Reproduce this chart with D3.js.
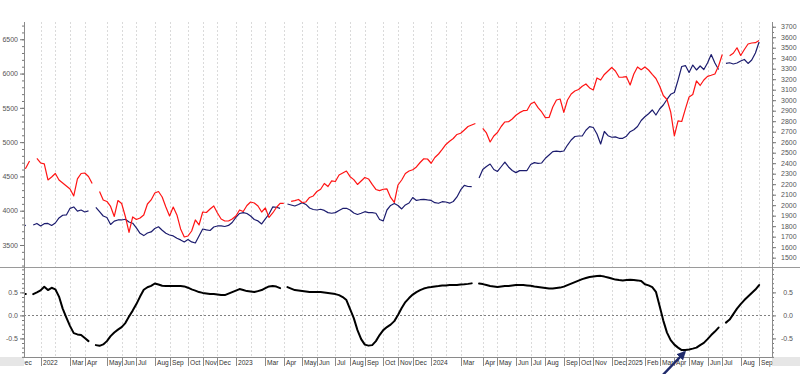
<!DOCTYPE html>
<html>
<head>
<meta charset="utf-8">
<script src="https://cdn.jsdelivr.net/npm/d3@7"></script>
<style>
  body { margin: 0; background: #fff; }
  svg { display: block; }
</style>
</head>
<body>
<div id="chart"></div>
<script>
// weekly bar slots; the first value of every series sits at slot -1 (just off the left edge)
const firstSlot = -1;

// S&P 500 (left axis)
const spx = [4590,
  4623, 4725, null, 4762, 4696, 4682, 4448, 4492, 4543, 4448,
  4404, 4361, 4317, 4215, 4463, 4543, 4550, 4499, 4397, null,
  4280, 4157, 4135, 4062, 3916, 4149, 4105, 3916, 3683, 3909,
  3872, 3894, 3938, 4098, 4157, 4259, 4280, 4200, 4054, 3923,
  4054, 3938, 3734, 3617, 3631, 3704, 3865, 3792, 3981, 3974,
  4025, 4069, 3967, 3879, 3850, 3850, 3879, 3923, 4011, 3989,
  4076, 4127, 4113, 4069, 3981, 4040, 3901, 3967, 4047, 4108,
  4108, null, 4135, 4146, 4164, 4120, 4127, 4193, 4215, 4280,
  4313, 4397, 4353, 4434, 4426, 4521, 4550, 4579, 4496, 4453,
  4383, 4434, 4485, 4463, 4383, 4310, 4292, 4313, 4317, 4193,
  4120, 4375, 4448, 4543, 4579, 4598, 4638, 4703, 4757, 4754,
  4692, 4776, 4827, 4893, 4966, 5013, 5053, 5112, 5129, 5177,
  5228, 5250, 5272, null, 5199, 5134, 5002, 5090, 5141, 5228,
  5294, 5298, 5338, 5392, 5430, 5459, 5462, 5556, 5586, 5503,
  5440, 5357, 5360, 5513, 5615, 5629, 5433, 5615, 5702, 5746,
  5768, 5815, 5848, 5790, 5761, 5936, 5906, 5987, 6038, 6089,
  6038, 5946, 5947, 5955, 5834, 5994, 6096, 6057, 6096, 6052,
  5987, 5928, 5819, 5680, 5622, 5440, 5090, 5309, 5301, 5484,
  5659, 5695, 5892, 5826, 5906, 5960, 5975, 5994, 6111, 6278,
  null, 6259, 6296, 6376, 6264, 6351, 6431, 6446, 6450, 6482];

// gold (right axis)
const gold = [1802,
  1807, null, 1811, 1826, 1802, 1824, 1826, 1807, 1830, 1878,
  1904, 1907, 1970, 1983, 1943, 1954, 1935, 1945, null, 1980,
  1938, 1897, 1883, 1816, 1848, 1859, 1859, 1866, 1840, 1828,
  1783, 1732, 1710, 1735, 1745, 1778, 1794, 1761, 1732, 1716,
  1707, 1685, 1669, 1650, 1673, 1650, 1640, 1707, 1773, 1764,
  1759, 1792, 1802, 1802, 1797, 1807, 1835, 1883, 1921, 1929,
  1921, 1897, 1864, 1850, 1821, 1869, 1916, 1983, 1980, 1970,
  null, 2011, 2002, 1992, 2007, 2024, 2007, 1973, 1959, 1954,
  1961, 1950, 1929, 1923, 1929, 1950, 1969, 1970, 1954, 1926,
  1911, 1923, 1938, 1929, 1929, 1923, 1864, 1850, 1954, 1997,
  2016, 1997, 1964, 2002, 2021, 2073, 2045, 2052, 2056, 2050,
  2045, 2024, 2018, 2033, 2030, 2019, 2035, 2078, 2145, 2188,
  2178, 2176, null, 2259, 2340, 2369, 2392, 2340, 2321, 2366,
  2411, 2364, 2330, 2310, 2329, 2329, 2330, 2388, 2405, 2399,
  2402, 2447, 2478, 2510, 2514, 2511, 2516, 2573, 2621, 2654,
  2659, 2659, 2714, 2748, 2740, 2678, 2583, 2702, 2662, 2647,
  2651, 2637, 2637, 2657, 2700, 2719, 2750, 2807, 2842, 2871,
  2907, 2859, 2916, 2954, 3007, 3056, 3073, 3192, 3321, 3330,
  3264, 3335, 3288, 3326, 3292, 3354, 3435, 3354, 3292, null,
  3351, 3357, 3345, 3354, 3373, 3388, 3350, 3383, 3450, 3554];

// rolling correlation (lower panel)
const corr = [0.463,
  0.463, null, 0.463, 0.500, 0.543, 0.622, 0.550, 0.600, 0.567, 0.409,
  0.148, -0.048, -0.233, -0.385, -0.413, -0.428, -0.493, -0.559, null, -0.646,
  -0.661, -0.630, -0.559, -0.450, -0.370, -0.309, -0.254, -0.167, -0.026, 0.104,
  0.246, 0.409, 0.557, 0.611, 0.641, 0.693, 0.670, 0.643, 0.637, 0.637,
  0.637, 0.637, 0.637, 0.630, 0.602, 0.565, 0.539, 0.507, 0.489, 0.478,
  0.467, 0.463, 0.452, 0.441, 0.441, 0.474, 0.507, 0.539, 0.572, 0.550,
  0.528, 0.517, 0.507, 0.528, 0.550, 0.593, 0.630, 0.637, 0.626, 0.593,
  null, 0.615, 0.583, 0.550, 0.539, 0.528, 0.517, 0.507, 0.507, 0.507,
  0.507, 0.496, 0.485, 0.474, 0.463, 0.441, 0.398, 0.333, 0.137, -0.059,
  -0.320, -0.515, -0.635, -0.657, -0.646, -0.559, -0.428, -0.320, -0.254, -0.200,
  -0.124, 0.007, 0.159, 0.289, 0.376, 0.452, 0.507, 0.550, 0.583, 0.604,
  0.615, 0.630, 0.637, 0.648, 0.652, 0.659, 0.659, 0.663, 0.670, 0.676,
  0.685, 0.696, null, 0.691, 0.680, 0.659, 0.637, 0.626, 0.615, 0.626,
  0.637, 0.637, 0.648, 0.659, 0.659, 0.659, 0.652, 0.643, 0.626, 0.615,
  0.604, 0.593, 0.583, 0.583, 0.593, 0.604, 0.626, 0.659, 0.691, 0.724,
  0.757, 0.789, 0.811, 0.833, 0.843, 0.854, 0.859, 0.843, 0.822, 0.800,
  0.778, 0.767, 0.761, 0.767, 0.774, 0.767, 0.761, 0.746, 0.676, 0.652,
  0.615, 0.513, 0.202, -0.113, -0.374, -0.537, -0.635, -0.700, -0.754, -0.750,
  -0.739, -0.722, -0.700, -0.646, -0.598, -0.515, -0.428, -0.352, -0.265, null,
  -0.157, -0.091, 0.028, 0.148, 0.246, 0.333, 0.409, 0.485, 0.561, 0.659];

// first bar of each month ("" = gridline only)
const monthSlots = [-2, 4, 8, 12, 16, 22, 26, 30, 35, 39, 44, 48, 52,
  57, 61, 65, 70, 75, 79, 84, 88, 92, 97, 101, 105,
  110, 114, 118, 124, 128, 133, 137, 141, 146, 150, 154, 159,
  163, 168, 172, 176, 180, 185, 189, 194, 199];
const monthLabels = ["Dec", "2022", "", "Mar", "Apr", "May", "Jun", "Jul", "Aug", "Sep", "Oct", "Nov", "Dec",
  "2023", "", "Mar", "Apr", "May", "Jun", "Jul", "Aug", "Sep", "Oct", "Nov", "Dec",
  "2024", "", "Mar", "Apr", "May", "Jun", "Jul", "Aug", "Sep", "Oct", "Nov", "Dec",
  "2025", "Feb", "Mar", "Apr", "May", "Jun", "Jul", "Aug", "Sep"];

const leftTicks = [3500, 4000, 4500, 5000, 5500, 6000, 6500];
const rightTicks = [1500, 1600, 1700, 1800, 1900, 2000, 2100, 2200, 2300, 2400, 2500, 2600,
  2700, 2800, 2900, 3000, 3100, 3200, 3300, 3400, 3500, 3600, 3700];
const corrTicks = [-0.5, 0.0, 0.5];

const W = 800, H = 374;
const L = 24, R = 772, T = 22, split = 267, bot = 357;

const svg = d3.select("#chart").append("svg")
  .attr("width", W).attr("height", H)
  .style("font-family", "'Liberation Sans', Arial, sans-serif");

const x = d3.scaleLinear().domain([-0.5, 202.5]).range([L, R]);
const yL = d3.scaleLinear().domain([3179, 6752]).range([split, T]);
const yR = d3.scaleLinear().domain([1411, 3745]).range([split, T]);
const yC = d3.scaleLinear().domain([-0.904, 1.03]).range([bot, split + 1]);

const defs = svg.append("defs");
defs.append("clipPath").attr("id", "clipTop")
  .append("rect").attr("x", L).attr("y", T).attr("width", R - L).attr("height", split - T);
defs.append("clipPath").attr("id", "clipBot")
  .append("rect").attr("x", L).attr("y", split + 1).attr("width", R - L).attr("height", bot - split - 1);
defs.append("clipPath").attr("id", "clipAxis")
  .append("rect").attr("x", L + 0.5).attr("y", bot).attr("width", R - L).attr("height", H - bot);

// grey strips beside the date row
svg.append("rect").attr("x", 0).attr("y", bot).attr("width", L).attr("height", 9).attr("fill", "#e6e6e6");
svg.append("rect").attr("x", R).attr("y", bot).attr("width", W - R).attr("height", 9).attr("fill", "#e6e6e6");

// month gridlines, both panels
svg.append("g").selectAll("line")
  .data(monthSlots.filter(s => x(s) > L + 1))
  .join("line")
    .attr("x1", d => Math.round(x(d)) + 0.5).attr("x2", d => Math.round(x(d)) + 0.5)
    .attr("y1", T).attr("y2", bot)
    .attr("stroke", "#dadada")
    .attr("stroke-dasharray", "2,2");

// zero line in the lower panel
svg.append("line")
  .attr("x1", L).attr("x2", R)
  .attr("y1", Math.round(yC(0)) + 0.5).attr("y2", Math.round(yC(0)) + 0.5)
  .attr("stroke", "#808080").attr("stroke-dasharray", "2,2");

// panel separator
svg.append("line").attr("x1", 0).attr("x2", W)
  .attr("y1", split + 0.5).attr("y2", split + 0.5).attr("stroke", "#9a9a9a");

// series
const slotOf = i => i + firstSlot;
const lineOf = yScale => d3.line()
  .defined(d => d != null)
  .x((d, i) => x(slotOf(i)))
  .y(d => yScale(d));

const gTop = svg.append("g").attr("clip-path", "url(#clipTop)");
gTop.append("path").datum(gold)
  .attr("d", lineOf(yR))
  .attr("fill", "none").attr("stroke", "#1c1c6e").attr("stroke-width", 1.2)
  .attr("stroke-linejoin", "round");
gTop.append("path").datum(spx)
  .attr("d", lineOf(yL))
  .attr("fill", "none").attr("stroke", "#ff1414").attr("stroke-width", 1.2)
  .attr("stroke-linejoin", "round");

svg.append("g").attr("clip-path", "url(#clipBot)")
  .append("path").datum(corr)
  .attr("d", lineOf(yC))
  .attr("fill", "none").attr("stroke", "#000").attr("stroke-width", 2)
  .attr("stroke-linejoin", "round").attr("stroke-linecap", "round");

// value axes
function styleAxis(g) {
  g.select(".domain").remove();
  g.attr("font-size", 7).attr("font-family", null).attr("color", "#555");
  g.selectAll(".tick line").attr("stroke", "#777");
}
const fmt1 = d => d.toFixed(1);

svg.append("g").attr("transform", `translate(${L},0)`)
  .call(d3.axisLeft(yL).tickValues(d3.range(3200, 6701, 100)).tickSize(2).tickFormat(""))
  .call(styleAxis);
svg.append("g").attr("transform", `translate(${L},0)`)
  .call(d3.axisLeft(yL).tickValues(leftTicks).tickSize(4).tickPadding(2).tickFormat(d3.format("d")))
  .call(styleAxis);

svg.append("g").attr("transform", `translate(${R},0)`)
  .call(d3.axisRight(yR).tickValues(d3.range(1450, 3701, 50)).tickSize(2).tickFormat(""))
  .call(styleAxis);
svg.append("g").attr("transform", `translate(${R},0)`)
  .call(d3.axisRight(yR).tickValues(rightTicks).tickSize(4).tickPadding(5).tickFormat(d3.format("d")))
  .call(styleAxis);

svg.append("g").attr("transform", `translate(${L},0)`)
  .call(d3.axisLeft(yC).tickValues(d3.range(-0.9, 1.01, 0.1)).tickSize(2).tickFormat(""))
  .call(styleAxis);
svg.append("g").attr("transform", `translate(${L},0)`)
  .call(d3.axisLeft(yC).tickValues(corrTicks).tickSize(4).tickPadding(2).tickFormat(fmt1))
  .call(styleAxis);
svg.append("g").attr("transform", `translate(${R},0)`)
  .call(d3.axisRight(yC).tickValues(d3.range(-0.9, 1.01, 0.1)).tickSize(2).tickFormat(""))
  .call(styleAxis);
const rc = svg.append("g").attr("transform", `translate(${R},0)`)
  .call(d3.axisRight(yC).tickValues(corrTicks).tickSize(4).tickPadding(5).tickFormat(fmt1))
  .call(styleAxis);
rc.selectAll("text").attr("text-anchor", "end").attr("x", 21);

// axis frame lines
[L, R].forEach(px => svg.append("line")
  .attr("x1", px + 0.5).attr("x2", px + 0.5).attr("y1", T).attr("y2", bot)
  .attr("stroke", "#8a8a8a"));
svg.append("line").attr("x1", L).attr("x2", R)
  .attr("y1", bot + 0.5).attr("y2", bot + 0.5).attr("stroke", "#8a8a8a");

// date row
const dateRow = svg.append("g").attr("clip-path", "url(#clipAxis)");
const labelled = monthSlots.map((s, i) => ({ s, t: monthLabels[i] })).filter(d => d.t);
dateRow.selectAll("line").data(labelled).join("line")
  .attr("x1", d => Math.round(x(d.s)) + 0.5).attr("x2", d => Math.round(x(d.s)) + 0.5)
  .attr("y1", bot).attr("y2", bot + 9)
  .attr("stroke", "#8a8a8a");
dateRow.selectAll("text").data(labelled).join("text")
  .attr("x", d => Math.round(x(d.s)) + 2)
  .attr("y", bot + 7.5)
  .attr("font-size", 6.6)
  .attr("fill", "#333")
  .text(d => d.t);

// arrow pointing at the correlation low
const minI = d3.minIndex(corr);
const tip = [x(slotOf(minI)) + 3, yC(corr[minI]) + 2];
defs.append("marker").attr("id", "head")
  .attr("viewBox", "0 0 10 10").attr("refX", 8).attr("refY", 5)
  .attr("markerWidth", 9).attr("markerHeight", 9)
  .attr("markerUnits", "userSpaceOnUse").attr("orient", "auto")
  .append("path").attr("d", "M0,0L10,5L0,10z").attr("fill", "#1f2a6b");
svg.append("line")
  .attr("x1", tip[0] - 22).attr("y1", tip[1] + 23)
  .attr("x2", tip[0]).attr("y2", tip[1])
  .attr("stroke", "#1f2a6b").attr("stroke-width", 2.4)
  .attr("marker-end", "url(#head)");
</script>
</body>
</html>
